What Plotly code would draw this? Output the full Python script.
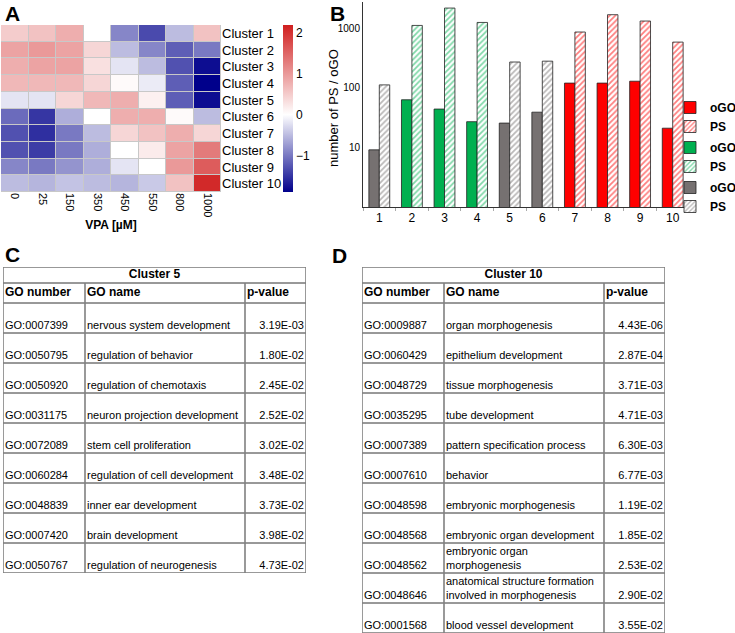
import plotly.graph_objects as go

W, H = 735, 633
FONT = "Liberation Sans, Arial, sans-serif"

# ---- panel A: heatmap data ----
vpa = ["0", "25", "150", "350", "450", "550", "800", "1000"]
clusters = ["Cluster %d" % i for i in range(1, 11)]
z = [
    [0.5, 0.6, 0.8, 0.0, -0.9, -1.35, -0.5, 0.6],
    [0.9, 1.0, 0.9, 0.4, -0.5, -0.9, -1.2, -1.0],
    [0.8, 0.9, 0.9, 0.3, -0.2, -0.5, -1.3, -1.8],
    [0.7, 0.7, 0.7, 0.4, 0.05, -0.15, -1.2, -1.95],
    [-0.2, -0.2, 0.4, 0.7, 0.8, 0.15, -1.2, -1.8],
    [-1.1, -1.5, -0.6, 0.0, 0.8, 0.8, 0.05, -0.5],
    [-1.3, -1.55, -1.0, -0.5, 0.4, 0.6, 0.8, 0.4],
    [-1.3, -1.45, -1.0, -0.6, 0.0, 0.2, 0.9, 1.3],
    [-0.9, -1.0, -0.8, -0.6, -0.2, 0.0, 1.0, 1.6],
    [-0.5, -0.55, -0.45, -0.5, -0.55, -0.4, 0.6, 2.1],
]

# ---- panel B: bar data ----
cl_num = [str(i) for i in range(1, 11)]
ogo = [9.1, 63, 44, 27, 25.6, 39, 120, 120, 129, 21]
ps = [112, 1114, 2180, 1250, 271, 280, 863, 1687, 1320, 585]
groups = [
    ("#ff0000", [7, 8, 9, 10]),
    ("#00b050", [2, 3, 4]),
    ("#767171", [1, 5, 6]),
]

# ---- panels C / D: tables ----
go_c = ["GO:0007399", "GO:0050795", "GO:0050920", "GO:0031175", "GO:0072089",
        "GO:0060284", "GO:0048839", "GO:0007420", "GO:0050767"]
name_c = ["nervous system development", "regulation of behavior",
          "regulation of chemotaxis", "neuron projection development",
          "stem cell proliferation", "regulation of cell development",
          "inner ear development", "brain development",
          "regulation of neurogenesis"]
p_c = ["3.19E-03", "1.80E-02", "2.45E-02", "2.52E-02", "3.02E-02",
       "3.48E-02", "3.73E-02", "3.98E-02", "4.73E-02"]

go_d = ["GO:0009887", "GO:0060429", "GO:0048729", "GO:0035295", "GO:0007389",
        "GO:0007610", "GO:0048598", "GO:0048568", "GO:0048562", "GO:0048646",
        "GO:0001568"]
name_d = ["organ morphogenesis", "epithelium development", "tissue morphogenesis",
          "tube development", "pattern specification process", "behavior",
          "embryonic morphogenesis", "embryonic organ development",
          "embryonic organ<br>morphogenesis",
          "anatomical structure formation<br>involved in morphogenesis",
          "blood vessel development"]
p_d = ["4.43E-06", "2.87E-04", "3.71E-03", "4.71E-03", "6.30E-03", "6.77E-03",
       "1.19E-02", "1.85E-02", "2.53E-02", "2.90E-02", "3.55E-02"]
headers = ["GO number", "GO name", "p-value"]

col_w = [82, 160, 61]
title_h, head_h, row_h = 16, 20, 30


def fx(px):
    return px / W


def fy(py):
    return 1 - py / H


fig = go.Figure()

zmin, zmax = -1.9, 2.2
mid = -zmin / (zmax - zmin)
fig.add_trace(go.Heatmap(
    z=z, x=vpa, y=clusters, zmin=zmin, zmax=zmax,
    colorscale=[[0, "#00008b"], [mid, "#ffffff"], [1, "#d01f1f"]],
    xgap=1, ygap=1, xaxis="x", yaxis="y",
    colorbar=dict(x=fx(283), xanchor="left", y=fy(25), yanchor="top",
                  len=167 / H, thickness=10, outlinewidth=0, xpad=0, ypad=0,
                  tickvals=[-1, 0, 1, 2], ticktext=["\u22121", "0", "1", "2"],
                  ticks="", tickfont=dict(size=12)),
))

for color, members in groups:
    xs = [cl_num[m - 1] for m in members]
    fig.add_trace(go.Bar(
        x=xs, y=[ogo[m - 1] for m in members], name="<b>oGO</b>",
        legendgroup=color, offsetgroup="o", xaxis="x2", yaxis="y2",
        marker=dict(color=color, line=dict(color="#222", width=0.8)),
    ))
    fig.add_trace(go.Bar(
        x=xs, y=[ps[m - 1] for m in members], name="<b>PS</b>",
        legendgroup=color, offsetgroup="p", xaxis="x2", yaxis="y2",
        marker=dict(color="white", line=dict(color="#222", width=0.8),
                    pattern=dict(shape="/", fgcolor=color, bgcolor="white",
                                 size=4, solidity=0.45)),
    ))


def draw_table(ax, title, cols):
    n = len(cols[0])
    total_w = sum(col_w)
    edges_x = [0]
    for w in col_w:
        edges_x.append(edges_x[-1] + w)
    edges_y = [0, title_h, title_h + head_h]
    for _ in range(n):
        edges_y.append(edges_y[-1] + row_h)
    bottom = edges_y[-1]
    xa, ya = "x%d" % ax, "y%d" % ax

    hx, hy = [], []
    for y in edges_y:
        hx += [0, total_w, None]
        hy += [y, y, None]
    fig.add_trace(go.Scatter(x=hx, y=hy, mode="lines", xaxis=xa, yaxis=ya,
                             line=dict(color="#333", width=1), showlegend=False,
                             hoverinfo="skip", cliponaxis=False))
    vx, vy = [], []
    for i, x in enumerate(edges_x):
        y0 = 0 if i in (0, len(edges_x) - 1) else title_h
        vx += [x, x, None]
        vy += [y0, bottom, None]
    fig.add_trace(go.Scatter(x=vx, y=vy, mode="lines", xaxis=xa, yaxis=ya,
                             line=dict(color="#808080", width=1.6), showlegend=False,
                             hoverinfo="skip", cliponaxis=False))

    # title row
    fig.add_trace(go.Scatter(x=[total_w / 2], y=[title_h / 2], mode="text",
                             text=["<b>%s</b>" % title], textposition="middle center",
                             textfont=dict(size=12, color="black"),
                             xaxis=xa, yaxis=ya, showlegend=False, hoverinfo="skip",
                             cliponaxis=False))
    # header row
    fig.add_trace(go.Scatter(x=[edges_x[i] + 2 for i in range(3)],
                             y=[title_h + head_h / 2] * 3, mode="text",
                             text=["<b>%s</b>" % h for h in headers],
                             textposition="middle right",
                             textfont=dict(size=12, color="black"),
                             xaxis=xa, yaxis=ya, showlegend=False, hoverinfo="skip",
                             cliponaxis=False))
    # body
    ybot = [edges_y[3 + r] - 1 for r in range(n)]
    for i, vals in enumerate(cols):
        if i < 2:
            xs, pos = [edges_x[i] + 2] * n, "top right"
        else:
            xs, pos = [edges_x[i + 1] - 2] * n, "top left"
        fig.add_trace(go.Scatter(x=xs, y=ybot, mode="text", text=vals,
                                 textposition=pos,
                                 textfont=dict(size=11, color="black"),
                                 xaxis=xa, yaxis=ya, showlegend=False,
                                 hoverinfo="skip", cliponaxis=False))
    return total_w, bottom


wc, hc = draw_table(3, "Cluster 5", [go_c, name_c, p_c])
wd, hd = draw_table(4, "Cluster 10", [go_d, name_d, p_d])

letters = [("A", 3, 3), ("B", 328, 5), ("C", 3, 247), ("D", 330, 248)]
ann = [dict(text="<b>%s</b>" % t, x=fx(px), y=fy(max(0, py - 6)), xref="paper",
            yref="paper", xanchor="left", yanchor="top", showarrow=False,
            font=dict(size=21, color="black", family=FONT)) for t, px, py in letters]
ann.append(dict(text="number of PS / oGO", textangle=-90, x=fx(334), y=fy(108),
                xref="paper", yref="paper", xanchor="center", yanchor="middle",
                showarrow=False, font=dict(size=13, color="black", family=FONT)))

hidden = dict(visible=False, showgrid=False, zeroline=False, fixedrange=True)

fig.update_layout(
    width=W, height=H, margin=dict(l=0, r=0, t=0, b=0, autoexpand=False),
    paper_bgcolor="white", plot_bgcolor="white",
    font=dict(family=FONT, color="black", size=12),
    barmode="group", bargap=0.36, bargroupgap=0,
    showlegend=True,
    legend=dict(x=fx(670), xanchor="left", y=fy(93), yanchor="top",
                tracegroupgap=2, font=dict(size=12), bgcolor="rgba(0,0,0,0)"),
    xaxis=dict(domain=[fx(1), fx(221)], anchor="y", tickangle=90,
               tickfont=dict(size=11), showgrid=False, ticks="",
               title=dict(text="<b>VPA [\u00b5M]</b>", font=dict(size=12), standoff=4)),
    yaxis=dict(domain=[fy(192), fy(25)], anchor="x", side="right",
               autorange="reversed", showgrid=False, ticks="",
               tickfont=dict(size=13)),
    xaxis2=dict(domain=[fx(363), fx(689)], anchor="y2", type="category",
                categoryorder="array", categoryarray=cl_num,
                showline=True, linecolor="#333", linewidth=1, showgrid=False,
                ticks="outside", tickson="boundaries", ticklen=3, tickcolor="#aaa",
                tickfont=dict(size=12)),
    yaxis2=dict(domain=[fy(207), fy(2)], anchor="x2", type="log", range=[0, 3.44],
                showline=True, linecolor="#333", linewidth=1, showgrid=False,
                tickvals=[10, 100, 1000], ticktext=["10", "100", "1000"],
                tickfont=dict(size=10), ticks=""),
    xaxis3=dict(domain=[fx(3), fx(3 + wc)], anchor="y3", range=[0, wc], **hidden),
    yaxis3=dict(domain=[fy(267 + hc), fy(267)], anchor="x3", range=[hc, 0], **hidden),
    xaxis4=dict(domain=[fx(362), fx(362 + wd)], anchor="y4", range=[0, wd], **hidden),
    yaxis4=dict(domain=[max(0, fy(267 + hd)), fy(267)], anchor="x4", range=[hd, 0], **hidden),
    shapes=[dict(type="rect", xref="x domain", yref="y domain", x0=0, x1=1,
                 y0=0, y1=1, fillcolor="#c8c8c8", line=dict(width=0), layer="below")],
    annotations=ann,
)

fig.write_html("out.html", config={"displayModeBar": False},
               post_script="document.body.style.margin='0';")
